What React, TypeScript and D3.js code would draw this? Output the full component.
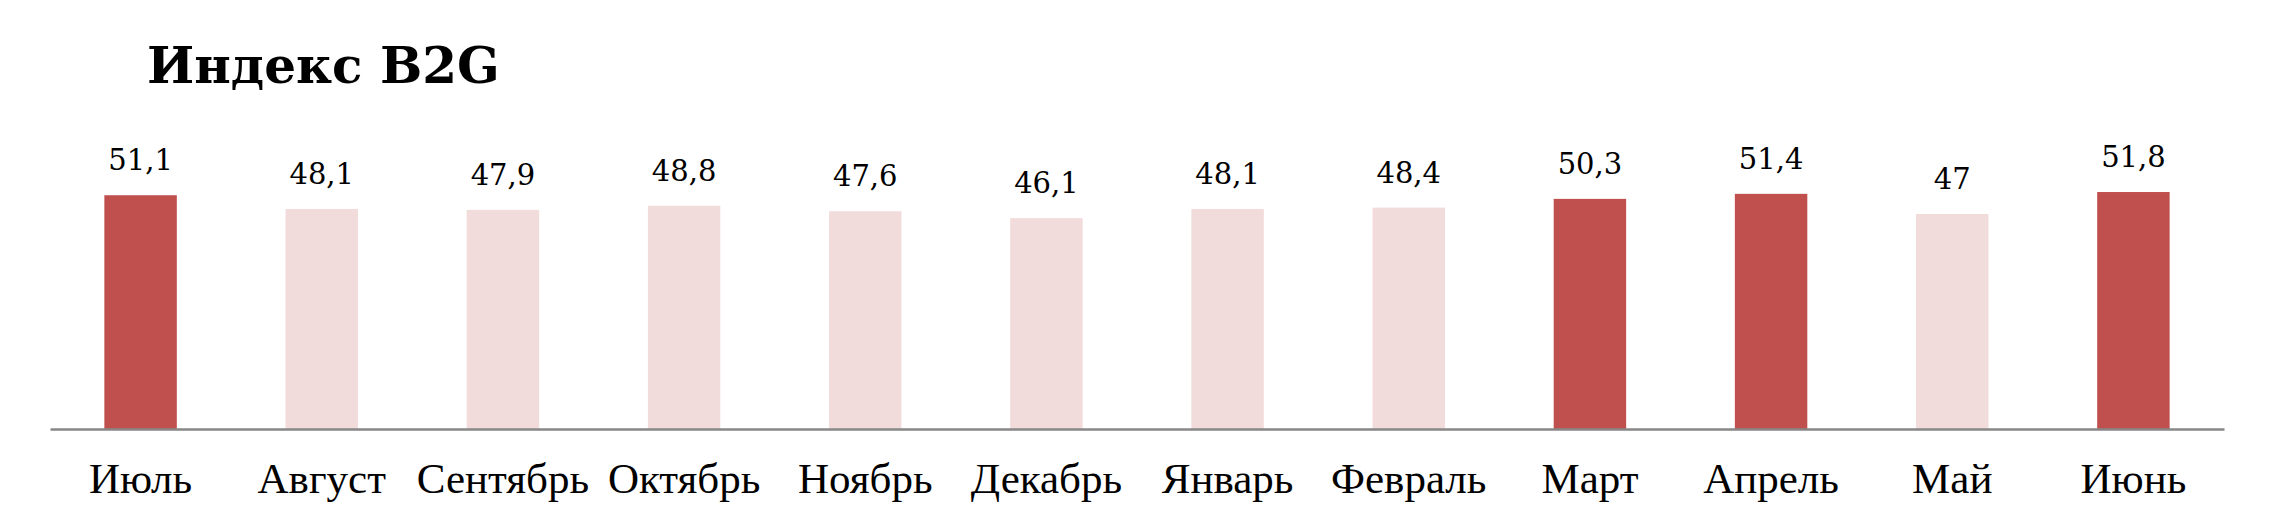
import * as d3 from "d3";
import React, { useEffect, useRef } from "react";

const months = [
  "Июль",
  "Август",
  "Сентябрь",
  "Октябрь",
  "Ноябрь",
  "Декабрь",
  "Январь",
  "Февраль",
  "Март",
  "Апрель",
  "Май",
  "Июнь"
];
const indexValues = [51.1, 48.1, 47.9, 48.8, 47.6, 46.1, 48.1, 48.4, 50.3, 51.4, 47, 51.8];
const chartTitle = "Индекс B2G";

const config = {
  width: 2275,
  height: 531,
  left: 50,
  right: 2224,
  axisY: 429,
  pxPerUnit: 4.575,
  dark: "#C0504D",
  light: "#F2DCDB",
  axisColor: "#878787"
};

const serif = "'DejaVu Serif', Georgia, serif";

export default function App() {
  const ref = useRef<SVGSVGElement>(null);

  useEffect(() => {
    const svg = d3.select(ref.current as any);
    svg.selectAll("*").remove();

    const data = months.map((m, i) => ({ month: m, value: indexValues[i] }));

    var x = d3
      .scaleBand()
      .domain(months)
      .range([config.left, config.right])
      .paddingInner(0.6)
      .paddingOuter(0.3);

    var y = d3
      .scaleLinear()
      .domain([0, 60])
      .range([config.axisY, config.axisY - 60 * config.pxPerUnit]);

    // title
    svg
      .append("text")
      .attr("x", 147)
      .attr("y", 83)
      .attr("font-family", serif)
      .attr("font-weight", "bold")
      .attr("font-size", 50)
      .attr("fill", "#000")
      .text(chartTitle);

    // bars
    svg
      .append("g")
      .selectAll("rect")
      .data(data)
      .enter()
      .append("rect")
      .attr("x", d => x(d.month) as number)
      .attr("width", x.bandwidth())
      .attr("y", d => y(d.value))
      .attr("height", d => y(0) - y(d.value))
      .attr("fill", d => (d.value >= 50 ? config.dark : config.light));

    // value labels
    svg
      .append("g")
      .selectAll("text")
      .data(data)
      .enter()
      .append("text")
      .attr("x", d => (x(d.month) as number) + x.bandwidth() / 2)
      .attr("y", d => y(d.value) - 25)
      .attr("text-anchor", "middle")
      .attr("font-family", serif)
      .attr("font-size", 29)
      .attr("fill", "#000")
      .text(d => String(d.value).replace(".", ","));

    // x axis
    const axis = svg
      .append("g")
      .attr("transform", "translate(0," + config.axisY + ")")
      .call(d3.axisBottom(x).tickSize(0).tickPadding(0) as any);
    axis
      .select(".domain")
      .attr("stroke", config.axisColor)
      .attr("stroke-width", 2.5);
    axis
      .selectAll(".tick text")
      .attr("dy", 0)
      .attr("y", 64)
      .attr("font-family", "'Liberation Serif', 'Times New Roman', serif")
      .attr("font-size", 43)
      .attr("fill", "#000");
  }, []);

  return (
    <svg
      ref={ref}
      width={config.width}
      height={config.height}
      style={{ position: "absolute", left: 0, top: 0, background: "#fff", display: "block" }}
    />
  );
}
